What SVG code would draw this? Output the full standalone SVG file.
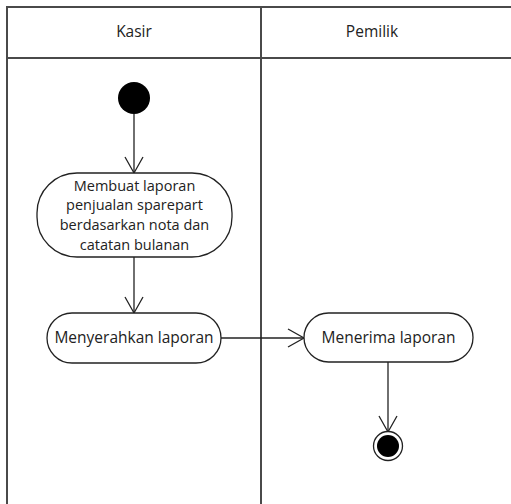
<svg xmlns="http://www.w3.org/2000/svg" width="511" height="504" viewBox="0 0 511 504">
  <style>
    .lane { fill: none; stroke: #4a4a4a; stroke-width: 2; }
    .act { fill: #fff; stroke: #222; stroke-width: 1.3; }
    .edge { fill: none; stroke: #222; stroke-width: 1.3; }
    text { font-family: "Open Sans", "Liberation Sans", sans-serif; font-size: 15.5px; fill: #222; text-anchor: middle; }
    text.multi { font-size: 14.5px; }
  </style>
  <defs>
    <marker id="open" viewBox="0 0 20 20" refX="18" refY="10" markerWidth="20" markerHeight="20" markerUnits="userSpaceOnUse" orient="auto">
      <path d="M2,1 L18,10 L2,19" fill="none" stroke="#222" stroke-width="1.3"/>
    </marker>
  </defs>
  <rect width="511" height="504" fill="#fff"/>

  <!-- swimlanes -->
  <g id="lanes">
    <line class="lane" x1="7" y1="7" x2="511" y2="7"/>
    <line class="lane" x1="7" y1="6" x2="7" y2="504"/>
    <line class="lane" x1="261" y1="7" x2="261" y2="504"/>
    <line class="lane" x1="7" y1="58" x2="511" y2="58"/>
    <text x="134" y="37">Kasir</text>
    <text x="372" y="37">Pemilik</text>
  </g>

  <!-- connectors -->
  <g id="edges">
    <line class="edge" x1="134" y1="114" x2="134" y2="173" marker-end="url(#open)"/>
    <line class="edge" x1="134" y1="257" x2="134" y2="313" marker-end="url(#open)"/>
    <line class="edge" x1="221" y1="338" x2="304" y2="338" marker-end="url(#open)"/>
    <line class="edge" x1="388" y1="362" x2="388" y2="432" marker-end="url(#open)"/>
  </g>

  <g id="start">
    <circle cx="134" cy="98" r="16" fill="#000"/>
  </g>

  <g id="buat-laporan">
    <rect class="act" x="37" y="173" width="195" height="84" rx="40" ry="40"/>
    <text class="multi" x="134.5" y="190.5">Membuat laporan</text>
    <text class="multi" x="134.5" y="210.3">penjualan sparepart</text>
    <text class="multi" x="134.5" y="230.1">berdasarkan nota dan</text>
    <text class="multi" x="134.5" y="249.9">catatan bulanan</text>
  </g>

  <g id="serahkan-laporan">
    <rect class="act" x="47" y="313" width="174" height="50" rx="25" ry="25"/>
    <text x="134" y="343">Menyerahkan laporan</text>
  </g>

  <g id="terima-laporan">
    <rect class="act" x="304" y="313" width="169" height="49" rx="24.5" ry="24.5"/>
    <text x="388.5" y="343">Menerima laporan</text>
  </g>

  <g id="end">
    <circle cx="388" cy="446" r="14.5" fill="#fff" stroke="#222" stroke-width="1.3"/>
    <circle cx="388" cy="446" r="11" fill="#000"/>
  </g>
</svg>
